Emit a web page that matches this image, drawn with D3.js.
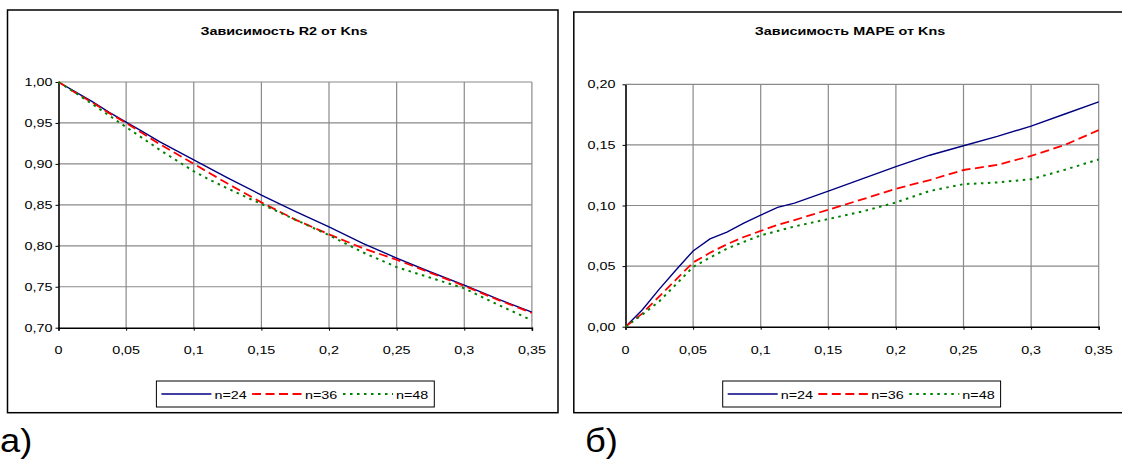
<!DOCTYPE html>
<html>
<head>
<meta charset="utf-8">
<script src="https://cdn.jsdelivr.net/npm/d3@7"></script>
<style>
  html, body { margin: 0; padding: 0; background: #fff; }
  svg { display: block; }
  text { font-family: Arial, "Liberation Sans", sans-serif; fill: #000; }
</style>
</head>
<body>
<svg id="chart" width="1122" height="459"></svg>
<script>
// Kns values (x) shared by both charts
const kns = [0, 0.0125, 0.025, 0.0375, 0.05, 0.0625, 0.075, 0.0875, 0.1, 0.1125, 0.125,
             0.15, 0.175, 0.2, 0.225, 0.25, 0.275, 0.3, 0.325, 0.35];

// R2 vs Kns
const r2_n24 = [1.000, 0.988, 0.976, 0.963, 0.951, 0.939, 0.927, 0.916, 0.905, 0.894, 0.883,
                0.862, 0.842, 0.823, 0.803, 0.785, 0.768, 0.752, 0.735, 0.719];
const r2_n36 = [1.000, 0.987, 0.975, 0.962, 0.950, 0.937, 0.924, 0.912, 0.900, 0.888, 0.876,
                0.853, 0.832, 0.814, 0.797, 0.783, 0.767, 0.751, 0.734, 0.718];
const r2_n48 = [1.000, 0.987, 0.973, 0.959, 0.945, 0.931, 0.917, 0.904, 0.891, 0.880, 0.870,
                0.851, 0.832, 0.813, 0.792, 0.774, 0.761, 0.748, 0.728, 0.709];

// MAPE vs Kns
const mape_n24 = [0, 0.014, 0.031, 0.047, 0.0625, 0.0725, 0.078, 0.0855, 0.092, 0.0985, 0.102,
                  0.1118, 0.122, 0.132, 0.1415, 0.1493, 0.157, 0.1655, 0.1755, 0.1855];
const mape_n36 = [0, 0.011, 0.025, 0.039, 0.053, 0.061, 0.068, 0.074, 0.079, 0.084, 0.088,
                  0.0965, 0.105, 0.1138, 0.121, 0.1293, 0.1335, 0.1409, 0.150, 0.1622];
const mape_n48 = [0, 0.010, 0.021, 0.035, 0.0493, 0.057, 0.0644, 0.070, 0.0753, 0.079, 0.0827,
                  0.0888, 0.095, 0.1025, 0.112, 0.1176, 0.119, 0.1217, 0.1295, 0.138];

const seriesNames = ["n=24", "n=36", "n=48"];
const xTicks = [0, 0.05, 0.1, 0.15, 0.2, 0.25, 0.3, 0.35];
const r2Ticks = [0.70, 0.75, 0.80, 0.85, 0.90, 0.95, 1.00];
const mapeTicks = [0, 0.05, 0.10, 0.15, 0.20];

const styles = [
    { color: "#000080", width: 1.4, dash: null },
    { color: "#ff0000", width: 1.8, dash: "9,4.5" },
    { color: "#008000", width: 2, dash: "2.5,4.5" }
];

const ru = d3.formatLocale({ decimal: ",", thousands: " ", grouping: [3], currency: ["", ""] });
const fmtX = v => String(v).replace(".", ",");
const fmtY = ru.format(".2f");
const SX = 1.25; // the original picture is stretched horizontally

const svg = d3.select("#chart");

function stretchedText(g, x, y, str, anchor, size, bold) {
    return g.append("text")
        .attr("transform", `translate(${x},${y}) scale(${SX},1)`)
        .attr("text-anchor", anchor)
        .attr("font-size", size)
        .attr("font-weight", bold ? "bold" : "normal")
        .text(str);
}

function drawPanel(p) {
    const g = svg.append("g");

    g.append("rect")
        .attr("x", p.box[0]).attr("y", p.box[1])
        .attr("width", p.box[2] - p.box[0]).attr("height", p.box[3] - p.box[1])
        .attr("fill", "#fff").attr("stroke", "#000").attr("stroke-width", 1.5);

    const x = d3.scaleLinear().domain([0, 0.35]).range(p.xRange);
    const y = d3.scaleLinear().domain(p.yDomain).range(p.yRange);

    // grid
    g.append("g").selectAll("line").data(xTicks.slice(1)).join("line")
        .attr("x1", d => x(d)).attr("x2", d => x(d))
        .attr("y1", y.range()[0]).attr("y2", y.range()[1])
        .attr("stroke", "#8a8a8a").attr("stroke-width", 1.2);
    g.append("g").selectAll("line").data(p.yTicks.slice(1)).join("line")
        .attr("x1", x.range()[0]).attr("x2", x.range()[1])
        .attr("y1", d => y(d)).attr("y2", d => y(d))
        .attr("stroke", "#8a8a8a").attr("stroke-width", 1.2);

    // axes
    const xAxis = d3.axisBottom(x).tickValues(xTicks).tickSize(3).tickFormat("");
    g.append("g").attr("transform", `translate(0,${y.range()[0]})`).call(xAxis)
        .call(a => a.select(".domain").attr("stroke", "#000").attr("stroke-width", 1.6))
        .call(a => a.selectAll("line").attr("stroke", "#000"));
    const yAxis = d3.axisLeft(y).tickValues(p.yTicks).tickSizeInner(3).tickSizeOuter(0).tickFormat("");
    g.append("g").attr("transform", `translate(${x.range()[0]},0)`).call(yAxis)
        .call(a => a.select(".domain").attr("stroke", "#000").attr("stroke-width", 1.6))
        .call(a => a.selectAll("line").attr("stroke", "#000"));

    // tick labels
    xTicks.forEach(t => stretchedText(g, x(t), p.xLabelY, fmtX(t), "middle", 11.5));
    p.yTicks.forEach(t => stretchedText(g, x.range()[0] - p.yLabelGap, y(t) + 4, fmtY(t), "end", 11.5));

    // lines
    const line = d3.line().x(d => x(d[0])).y(d => y(d[1]));
    p.series.forEach((vals, i) => {
        const s = styles[i];
        g.append("path")
            .datum(kns.map((k, j) => [k, vals[j]]))
            .attr("d", line)
            .attr("fill", "none")
            .attr("stroke", s.color)
            .attr("stroke-width", s.width)
            .attr("stroke-dasharray", s.dash);
    });

    // title
    stretchedText(g, p.titleX, 35, p.title, "middle", 11.5, true);

    // legend
    const lg = g.append("g");
    lg.append("rect")
        .attr("x", p.legend[0]).attr("y", 381)
        .attr("width", p.legend[1] - p.legend[0]).attr("height", 26)
        .attr("fill", "#fff").attr("stroke", "#000").attr("stroke-width", 1);
    const offsets = [5, 95.6, 186.6];
    seriesNames.forEach((name, i) => {
        const s = styles[i];
        const x0 = p.legend[0] + offsets[i];
        lg.append("line")
            .attr("x1", x0).attr("x2", x0 + 50).attr("y1", 394).attr("y2", 394)
            .attr("stroke", s.color).attr("stroke-width", s.width)
            .attr("stroke-dasharray", s.dash);
        stretchedText(lg, x0 + 53, 398.5, name, "start", 11.5);
    });

    // panel letter
    svg.append("text")
        .attr("transform", `translate(${p.letterX},452) scale(1.1,1)`)
        .attr("font-family", "'Liberation Serif', 'Times New Roman', serif")
        .attr("font-size", 33)
        .text(p.letter);
}

drawPanel({
    box: [7.5, 10, 558, 412.7],
    xRange: [58.5, 531.9],
    yDomain: [0.7, 1.0],
    yRange: [327.7, 82],
    yTicks: r2Ticks,
    yLabelGap: 6,
    xLabelY: 354,
    series: [r2_n24, r2_n36, r2_n48],
    title: "Зависимость R2 от Kns",
    titleX: 284,
    legend: [156.4, 434.3],
    letter: "а)",
    letterX: 0
});

drawPanel({
    box: [573.8, 12, 1126, 412.7],
    xRange: [625.5, 1098.7],
    yDomain: [0, 0.2],
    yRange: [326.7, 84.3],
    yTicks: mapeTicks,
    yLabelGap: 10,
    xLabelY: 354,
    series: [mape_n24, mape_n36, mape_n48],
    title: "Зависимость MAPE от Kns",
    titleX: 850,
    legend: [722.7, 1000.6],
    letter: "б)",
    letterX: 585
});
</script>
</body>
</html>
